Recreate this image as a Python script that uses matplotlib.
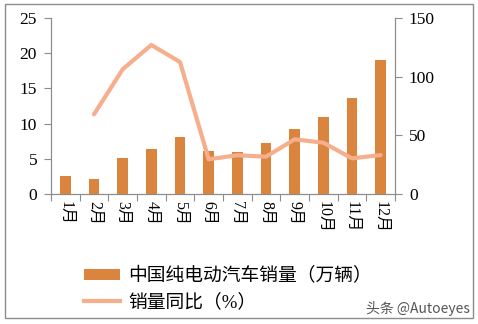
import matplotlib
matplotlib.use("Agg")
import matplotlib.pyplot as plt
from matplotlib.patches import Rectangle, Patch
from matplotlib.lines import Line2D

# 数据
months = ["1月", "2月", "3月", "4月", "5月", "6月", "7月", "8月", "9月", "10月", "11月", "12月"]
sales = [2.6, 2.2, 5.1, 6.4, 8.1, 6.1, 5.9, 7.2, 9.3, 11.0, 13.7, 19.1]
yoy = [None, 67.9, 106.3, 127.0, 112.5, 29.6, 33.0, 31.8, 46.6, 43.7, 30.4, 33.2]

bar_color = "#DA843D"
line_color = "#F6AE8C"
grey = "#8C8C8C"
plt.rcParams["font.family"] = ["Liberation Serif", "Noto Sans CJK SC"]

fig = plt.figure(figsize=(4.78, 3.24), dpi=100)
ax = fig.add_axes([51 / 478, 1 - 194 / 324, 344 / 478, 176 / 324])
ax2 = ax.twinx()

x = list(range(len(months)))
ax.bar(x, sales, width=0.38, color=bar_color, zorder=2)
xs = [i for i, v in zip(x, yoy) if v is not None]
ys = [v for v in yoy if v is not None]
ax2.plot(xs, ys, color=line_color, linewidth=3, solid_capstyle="round", zorder=3)

ax.set_xlim(-0.5, 11.5)
ax.set_ylim(0, 25)
ax2.set_ylim(0, 150)
ax.set_yticks([0, 5, 10, 15, 20, 25])
ax2.set_yticks([0, 50, 100, 150])

ax.set_xticks([i - 0.5 for i in range(13)], minor=False)
ax.set_xticklabels([])
ax.set_xticks(x, minor=True)
ax.set_xticklabels(months, minor=True, rotation=-90, ha="center", va="top", fontsize=11.5)
ax.tick_params(axis="x", which="minor", length=0, pad=5)
ax.tick_params(axis="x", which="major", length=5, color=grey, direction="out")

for a in (ax, ax2):
    a.spines["top"].set_visible(False)
    for s in ("left", "right", "bottom"):
        a.spines[s].set_color(grey)
    a.tick_params(axis="y", length=5, color=grey, labelsize=12.5, pad=5)
ax2.set_zorder(ax.get_zorder() + 1)
ax2.patch.set_visible(False)

handles = [Patch(facecolor=bar_color, edgecolor="none"),
           Line2D([0], [0], color=line_color, linewidth=3)]
labels = ["中国纯电动汽车销量（万辆）", "销量同比（%）"]
fig.legend(handles, labels, loc="upper left", bbox_to_anchor=(67 / 478, 1 - 250 / 324),
           frameon=False, prop={"size": 13.5},
           handlelength=1.9, handleheight=0.5, handletextpad=0.45, labelspacing=0.45)

fig.text(470 / 478, 1 - 308 / 324, "头条 @Autoeyes", ha="right", va="center",
         fontsize=10, color="#555555", family=["Noto Sans CJK SC", "DejaVu Sans"])

fig.patches.append(Rectangle((5 / 478, 1 - 318 / 324), 468 / 478, 314 / 324,
                             transform=fig.transFigure, fill=False,
                             edgecolor=grey, linewidth=1))

fig.savefig("out.png", dpi=100)
